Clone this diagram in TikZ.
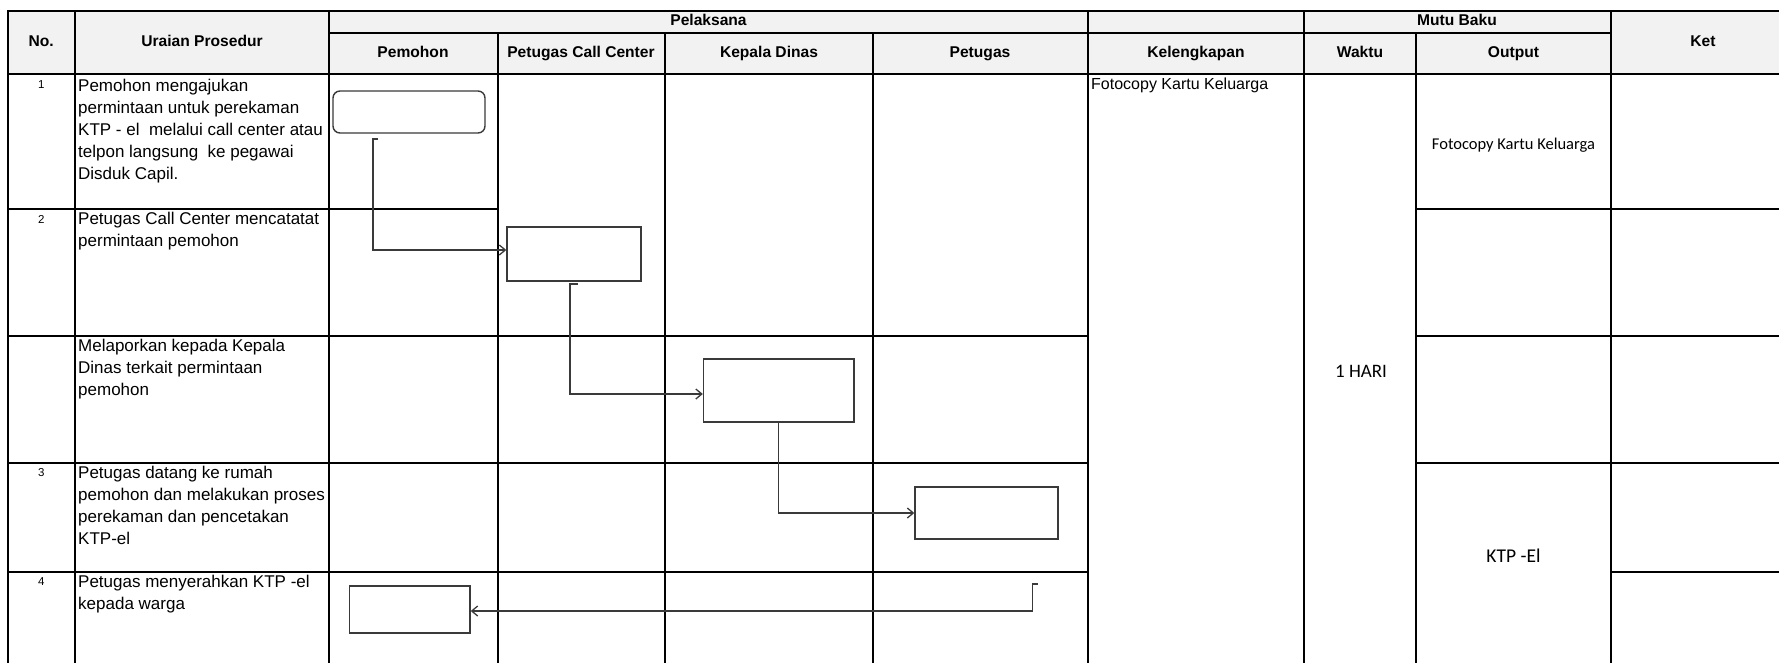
\documentclass[tikz,border=0pt]{standalone}
\usepackage{fontspec}
\setmainfont{Liberation Sans}
\newfontfamily\calibri{Carlito}
\usetikzlibrary{arrows.meta}
\definecolor{hdrfill}{HTML}{F2F2F2}
\definecolor{boxgray}{HTML}{3A3A3A}
\definecolor{conngray}{HTML}{3A3A3A}
\begin{document}
\begin{tikzpicture}[x=1pt,y=-1pt,
  gridline/.style={line width=2pt, black, line cap=rect},
  hdr/.style={font=\fontsize{15.6}{18}\selectfont\bfseries, inner sep=0pt, text height=11.5pt, text depth=3.3pt},
  body/.style={anchor=north west, align=left, inner sep=0pt, font=\fontsize{17}{22}\selectfont},
  num/.style={inner sep=0pt, font=\fontsize{11.5}{13}\selectfont},
  cell/.style={inner sep=0pt, font=\fontsize{16}{20}\selectfont},
  flowbox/.style={draw=boxgray, line width=1.4pt, fill=white, inner sep=0pt},
  conn/.style={draw=conngray, line width=1.3pt},
  arr/.style={conn, -{Straight Barb[length=6pt,width=10pt,line width=1.3pt]}}]
\useasboundingbox (0,0) rectangle (1779,663);
\clip (0,0) rectangle (1779,663);
% header fill
\fill[hdrfill] (8,11) rectangle (1800,74.5);
% vertical lines
\foreach \x in {8,74.5,329,1088,1303.5,1611} \draw[gridline] (\x,11) -- (\x,680);
\foreach \x in {497.5,665,872.5,1416} \draw[gridline] (\x,33) -- (\x,680);
% horizontal lines
\draw[gridline] (8,11) -- (1800,11);
\draw[gridline] (329,33) -- (1611,33);
\draw[gridline] (8,74.5) -- (1800,74.5);
\draw[gridline] (8,209) -- (497.5,209);
\draw[gridline] (1416,209) -- (1800,209);
\foreach \y in {336,463} {
  \draw[gridline] (8,\y) -- (1088,\y);
  \draw[gridline] (1416,\y) -- (1800,\y);
}
\draw[gridline] (8,572) -- (1088,572);
\draw[gridline] (1611,572) -- (1800,572);
% header texts
\node[hdr] (hno) at (41.25,42.5) {No.};
\node[hdr] (hur) at (202,42.5) {Uraian Prosedur};
\node[hdr] (hpel) at (708.5,21.5) {Pelaksana};
\node[hdr] (hpem) at (413,53) {Pemohon};
\node[hdr] (hpcc) at (581,53) {Petugas Call Center};
\node[hdr] (hkd) at (769,53) {Kepala Dinas};
\node[hdr] (hpet) at (980,53) {Petugas};
\node[hdr] (hkel) at (1196,53) {Kelengkapan};
\node[hdr] (hmb) at (1457,21.5) {Mutu Baku};
\node[hdr] (hwak) at (1360,53) {Waktu};
\node[hdr] (hout) at (1513.5,53) {Output};
\node[hdr] (hket) at (1703,42.5) {Ket};
% numbers
\node[num] (n1) at (41.25,85) {1};
\node[num] (n2) at (41.25,219) {2};
\node[num] (n3) at (41.25,473) {3};
\node[num] (n4) at (41.25,582) {4};
% procedure texts
\node[body] (t1) at (78,79) {Pemohon mengajukan\\permintaan untuk perekaman\\KTP - el\ \ melalui call center atau\\telpon langsung\ \ ke pegawai\\Disduk Capil.};
\node[body] (t2) at (78,212) {Petugas Call Center mencatatat\\permintaan pemohon};
\node[body] (t3) at (78,339) {Melaporkan kepada Kepala\\Dinas terkait permintaan\\pemohon};
\node[body] (t4) at (78,466) {Petugas datang ke rumah\\pemohon dan melakukan proses\\perekaman dan pencetakan\\KTP-el};
\node[body] (t5) at (78,575) {Petugas menyerahkan KTP -el\\kepada warga};
% other columns
\node[body, font=\fontsize{16}{20}\selectfont] (kel) at (1091,78) {Fotocopy Kartu Keluarga};
\node[cell, font=\calibri\fontsize{16.5}{19}\selectfont] (out1) at (1513.5,145) {Fotocopy Kartu Keluarga};
\node[cell, font=\calibri\fontsize{19}{22}\selectfont] (wak) at (1361,371) {1 HARI};
\node[cell, font=\calibri\fontsize{19.5}{22}\selectfont] (out2) at (1513.5,556) {KTP -El};
% flow boxes
\node[flowbox, rounded corners=7pt, minimum width=152pt, minimum height=42pt] (b1) at (409,112) {};
\node[flowbox, minimum width=134pt, minimum height=54pt] (b2) at (574,254) {};
\node[flowbox, minimum width=150.5pt, minimum height=63pt] (b3) at (778.75,390.5) {};
\node[flowbox, minimum width=143pt, minimum height=52pt] (b4) at (986.5,513) {};
\node[flowbox, minimum width=120.5pt, minimum height=47pt] (b5) at (409.75,609.5) {};
% connectors
\coordinate (s1) at (373,139);
\coordinate (s2) at (570,284);
\coordinate (s4) at (1032.5,584);
\draw[arr] ([xshift=5pt]s1) -- (s1) |- ([yshift=4pt]b2.west);
\draw[arr] ([xshift=8pt]s2) -- (s2) |- ([yshift=-3.5pt]b3.west);
\draw[arr] (b3.south) |- (b4.west);
\draw[arr] ([xshift=5pt]s4) -- (s4) |- ([yshift=-1.5pt]b5.east);
\end{tikzpicture}
\end{document}
